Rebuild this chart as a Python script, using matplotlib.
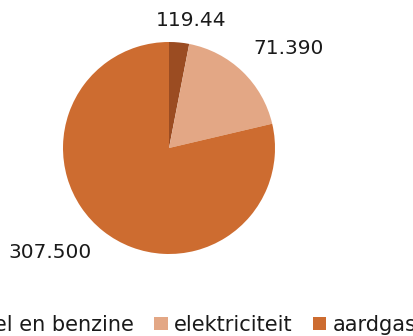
import numpy as np
import matplotlib
matplotlib.use("Agg")
import matplotlib.pyplot as plt

# Energy use per carrier
categories = ["diesel en benzine", "elektriciteit", "aardgas"]
values = [11944, 71390, 307500]
value_labels = ["119.44", "71.390", "307.500"]
colors = ["#9B4C22", "#E3A785", "#CD6C30"]

# Label placement: radial distance (in radii) and clockwise nudge (degrees)
label_dist = [1.22, 1.47, 1.49]
label_nudge = [4.5, 6.5, 10.3]

W, H = 414, 336
fig = plt.figure(figsize=(W / 100, H / 100), dpi=100)
plt.rcParams["font.family"] = ["DejaVu Sans"]

cx, cy, r = 169, 148, 106
ax = fig.add_axes([(cx - r) / W, (H - cy - r) / H, 2 * r / W, 2 * r / H])
wedges, _ = ax.pie(values, colors=colors, startangle=90, counterclock=False,
                   radius=1.0, wedgeprops=dict(linewidth=0))
ax.set_xlim(-1, 1)
ax.set_ylim(-1, 1)
ax.set_aspect("equal")
ax.axis("off")

for w, txt, d, nudge in zip(wedges, value_labels, label_dist, label_nudge):
    mid = np.deg2rad((w.theta1 + w.theta2) / 2 - nudge)
    ax.text(d * np.cos(mid), d * np.sin(mid), txt, ha="center", va="center",
            fontsize=14.5, color="#1a1a1a", clip_on=False)

fs = 15
fig.legend(wedges, categories, loc="center", bbox_to_anchor=(0.42, 0.033),
           ncol=3, frameon=False, fontsize=fs, handlelength=0.63,
           handleheight=0.63, handletextpad=0.3, columnspacing=1.0,
           borderpad=0, labelcolor="#1a1a1a")

fig.savefig("out.png", dpi=100)
